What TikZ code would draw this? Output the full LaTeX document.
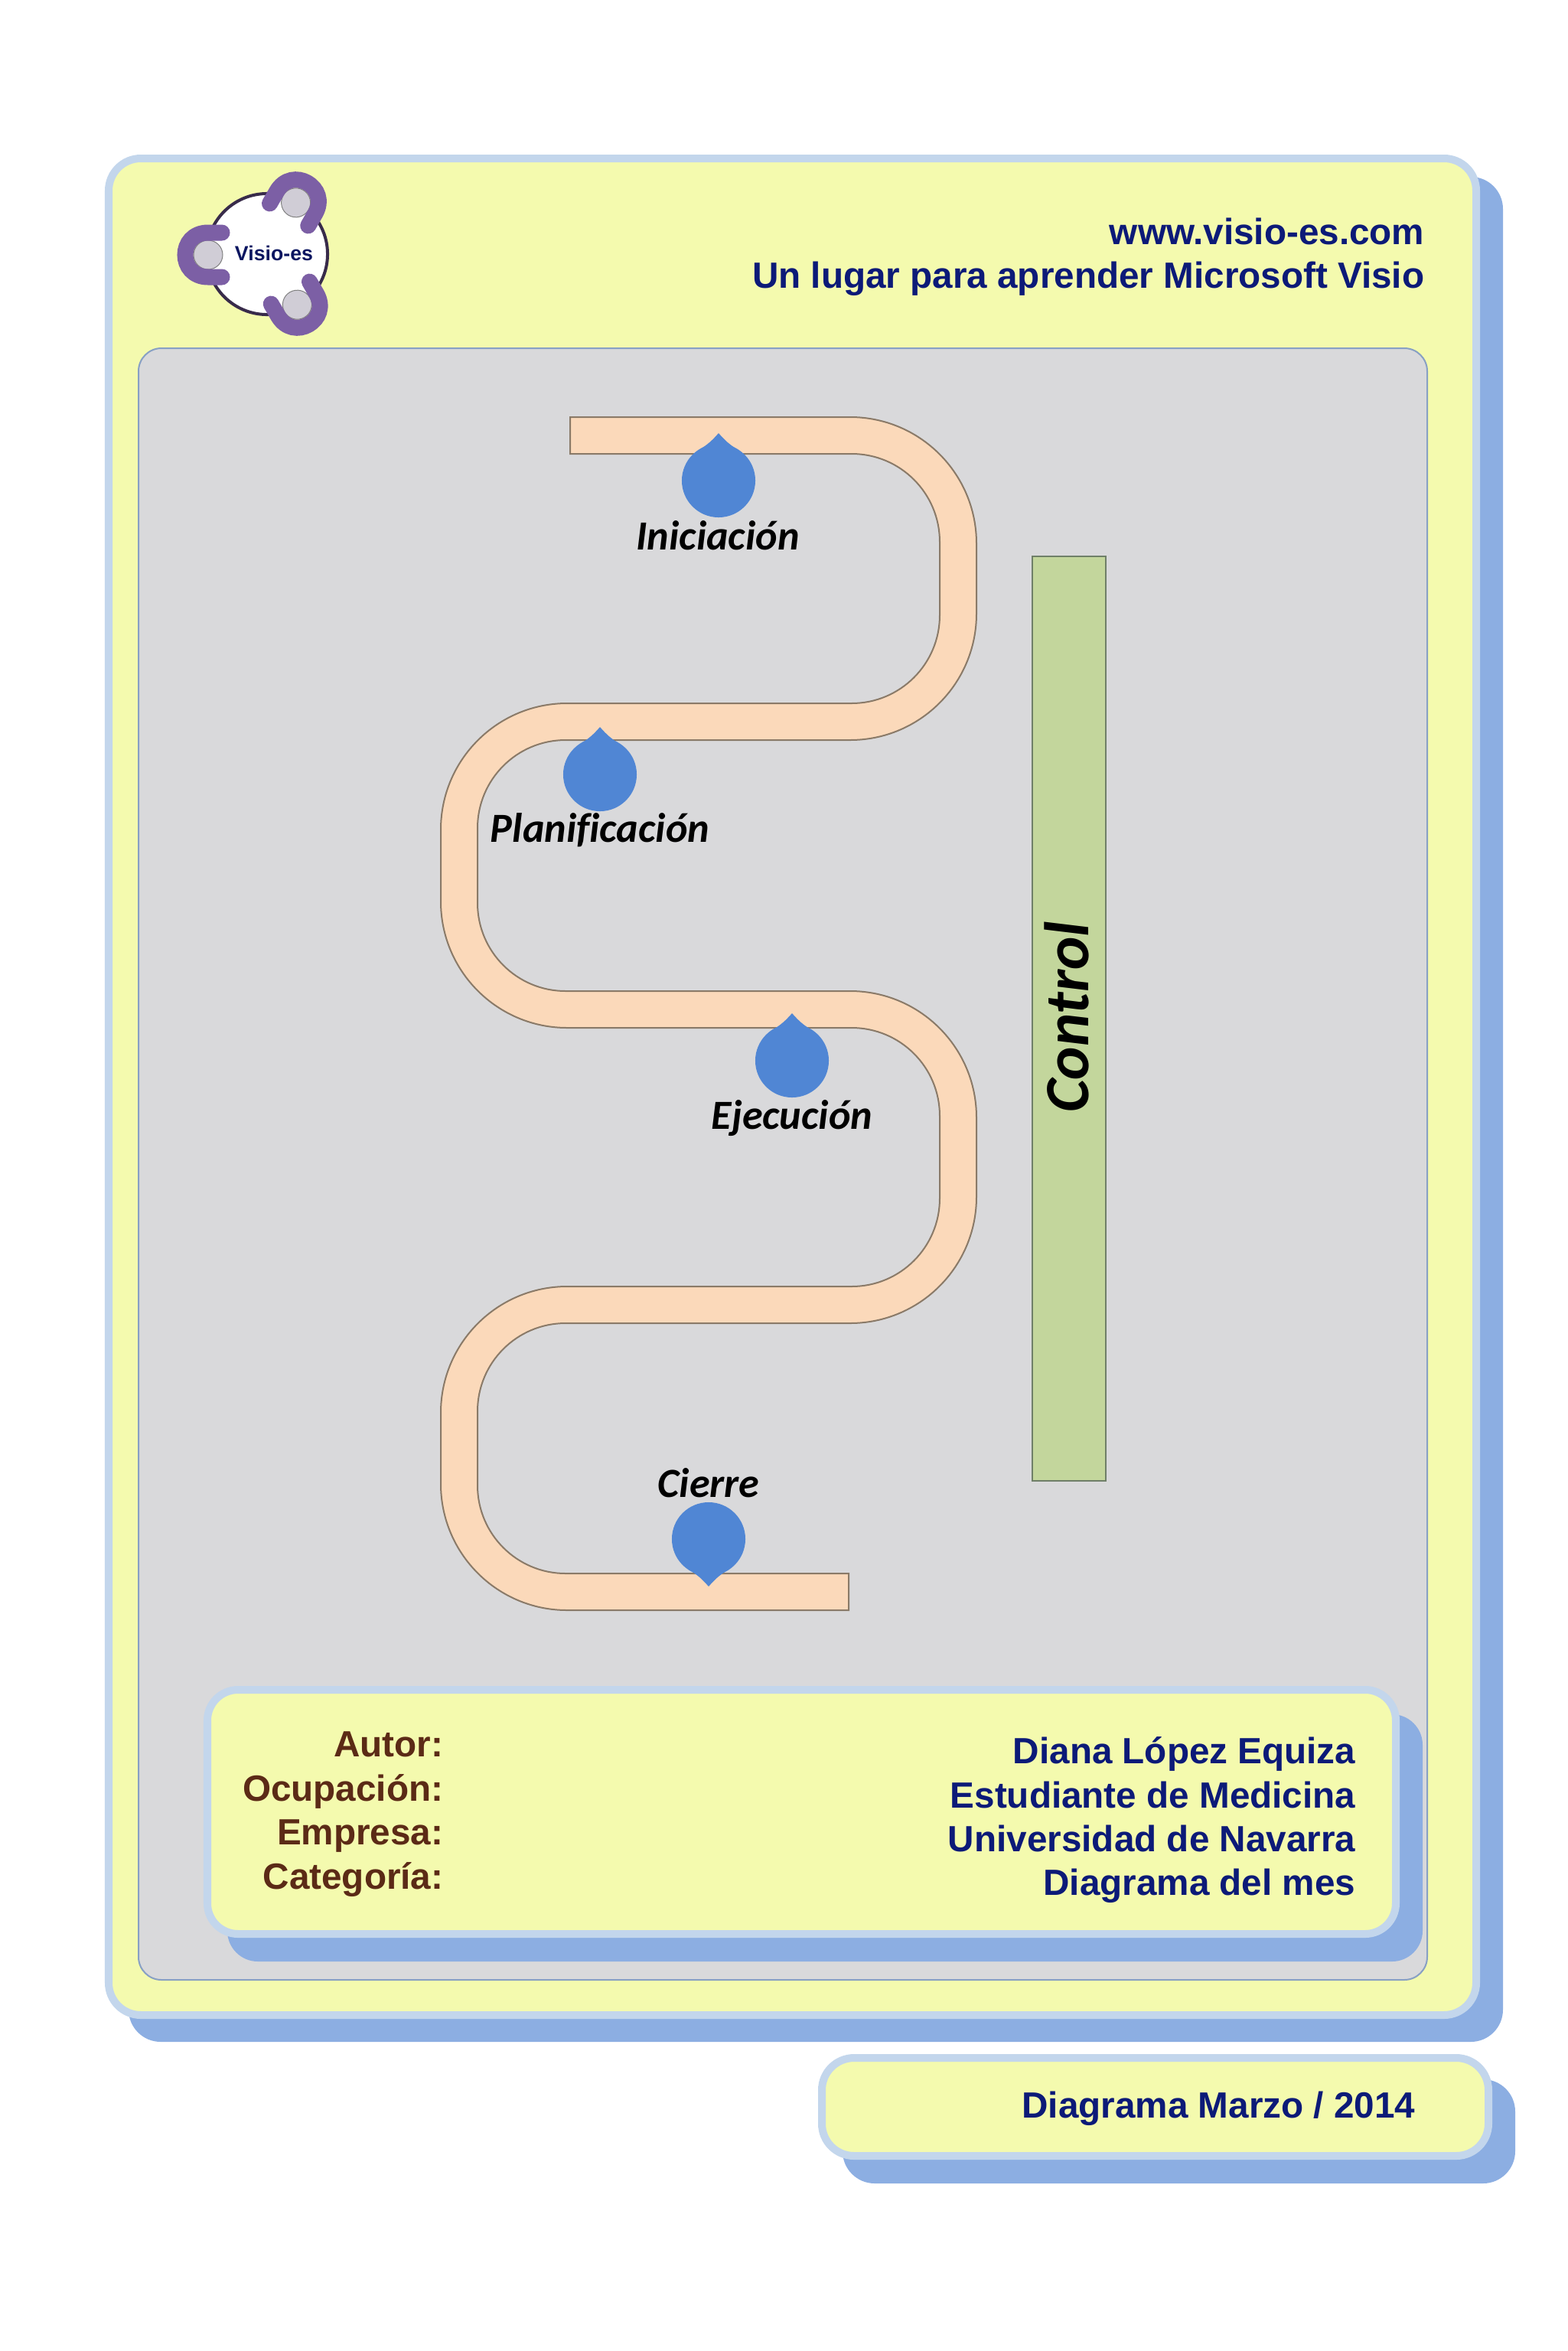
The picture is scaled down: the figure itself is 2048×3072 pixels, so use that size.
\documentclass[tikz,border=0pt]{standalone}
\usepackage{fontspec}
\setmainfont{Liberation Sans}
\newfontfamily\calibrifont[Ligatures=NoCommon]{Carlito}
\definecolor{paneyellow}{HTML}{F4FAAE}
\definecolor{paneborder}{HTML}{C3D6EC}
\definecolor{paneshadow}{HTML}{8CAEE2}
\definecolor{panelgray}{HTML}{D9D9DB}
\definecolor{ribbonfill}{HTML}{FBD9BA}
\definecolor{ribbonline}{HTML}{8A7A68}
\definecolor{dropblue}{HTML}{5086D4}
\definecolor{barfill}{HTML}{C3D69C}
\definecolor{barline}{HTML}{6F7F68}
\definecolor{logopurple}{HTML}{7C5FA5}
\definecolor{navytext}{HTML}{0C1A78}
\definecolor{browntext}{HTML}{5B2A16}
\tikzset{
  panebox/.style={draw=paneborder, line width=0.1cm, fill=paneyellow},
  shadowbox/.style={fill=paneshadow},
  headtext/.style={anchor=base east, inner sep=0pt, text=navytext, font=\fontsize{13.55}{16}\selectfont\bfseries},
  keytext/.style={anchor=base east, inner sep=0pt, text=browntext, font=\fontsize{13.55}{16}\selectfont\bfseries},
  phasetext/.style={anchor=base, inner sep=0pt, font=\fontsize{15.4}{18}\calibrifont\bfseries\itshape},
}

\begin{document}
\begin{tikzpicture}[x=0.01cm, y=-0.01cm]
\useasboundingbox (0,0) rectangle (2048,3072);
% Outer card with its shadow
\fill[shadowbox, rounded corners=0.42cm] (168,231) rectangle (1964,2668);
\draw[panebox, rounded corners=0.42cm] (142,207) rectangle (1929,2633);
% Grey panel
\draw[fill=panelgray, draw=paneshadow!70!gray, line width=0.02cm, rounded corners=0.3cm] (181,455) rectangle (1865,2587);
% Author card
\fill[shadowbox, rounded corners=0.4cm] (297,2240) rectangle (1859,2563);
\draw[panebox, rounded corners=0.4cm] (271,2208) rectangle (1824,2527);
% Date card
\fill[shadowbox, rounded corners=0.42cm] (1101,2717) rectangle (1980,2853);
\draw[panebox, rounded corners=0.42cm] (1074,2689) rectangle (1945,2817);
% Logo
\draw[fill=white, draw=logopurple!45!black, line width=0.04cm] (349,332) circle (0.79cm);
\foreach \a in {0,120,240} {
  \begin{scope}[rotate around={\a:(349,332)}]
    \draw[fill=panelgray!90!logopurple, draw=gray, line width=0.01cm] (272,333) circle (0.19cm);
    \draw[logopurple, line width=0.21cm, line cap=round] (290,304) -- (272,304) .. controls (232,304) and (232,362) .. (272,362) -- (290,362);
  \end{scope}
}
\node[inner sep=0pt, text=navytext!80!black, font=\fontsize{7.6}{9}\selectfont\bfseries] (logotext) at (358,331) {Visio-es};
% Header text
\node[headtext] (siteurl) at (1862,319) {www.visio-es.com};
\node[headtext] (sitetitle) at (1862,376) {Un lugar para aprender Microsoft Visio};
% Winding ribbon
\draw[fill=ribbonfill, draw=ribbonline, line width=0.02cm]
  (745,545) [rounded corners=1.65cm] -- (1276,545) -- (1276,967) [rounded corners=1.15cm] -- (624,967) -- (624,1295)
  [rounded corners=1.65cm] -- (1276,1295) -- (1276,1729) [rounded corners=1.15cm] -- (624,1729) -- (624,2056) [sharp corners] -- (1109,2056)
  -- (1109,2104) [rounded corners=1.65cm] -- (576,2104) -- (576,1681) [rounded corners=1.15cm] -- (1228,1681) -- (1228,1343)
  [rounded corners=1.65cm] -- (576,1343) -- (576,919) [rounded corners=1.15cm] -- (1228,919) -- (1228,593) [sharp corners] -- (745,593) -- cycle;
% Drops on the ribbon
\foreach \x/\y/\s in {939/628/1, 784/1012/1, 1035/1386/1, 926/2011/-1} {
  \fill[dropblue] (\x,\y) circle (0.48cm);
  \fill[dropblue] (\x,\y-62*\s) .. controls (\x+8,\y-53*\s) and (\x+14,\y-47*\s) .. (\x+26,\y-40*\s) -- (\x-26,\y-40*\s) .. controls (\x-14,\y-47*\s) and (\x-8,\y-53*\s) .. cycle;
}
% Phase labels
\node[phasetext] (iniciacion) at (938,718) {Iniciación};
\node[phasetext] (planificacion) at (784,1100) {Planificación};
\node[phasetext] (ejecucion) at (1035,1475) {Ejecución};
\node[phasetext] (cierre) at (926,1956) {Cierre};
% Control bar
\node[draw=barline, line width=0.02cm, fill=barfill, minimum width=0.96cm, minimum height=12.07cm, inner sep=0pt] (controlbar) at (1397,1331) {};
\node[rotate=90, inner sep=0pt, font=\fontsize{23.4}{28}\calibrifont\bfseries\itshape] (controltext) at (1394,1329) {Control};
% Author card text
\node[keytext] (autor) at (580,2295) {Autor:};
\node[keytext] (ocupacion) at (580,2353) {Ocupación:};
\node[keytext] (empresa) at (580,2410) {Empresa:};
\node[keytext] (categoria) at (580,2468) {Categoría:};
\node[headtext] (nombre) at (1772,2304) {Diana López Equiza};
\node[headtext] (estudio) at (1772,2362) {Estudiante de Medicina};
\node[headtext] (centro) at (1772,2419) {Universidad de Navarra};
\node[headtext] (premio) at (1772,2476) {Diagrama del mes};
% Date text
\node[headtext] (fecha) at (1850,2767) {Diagrama Marzo / 2014};
\end{tikzpicture}
\end{document}
